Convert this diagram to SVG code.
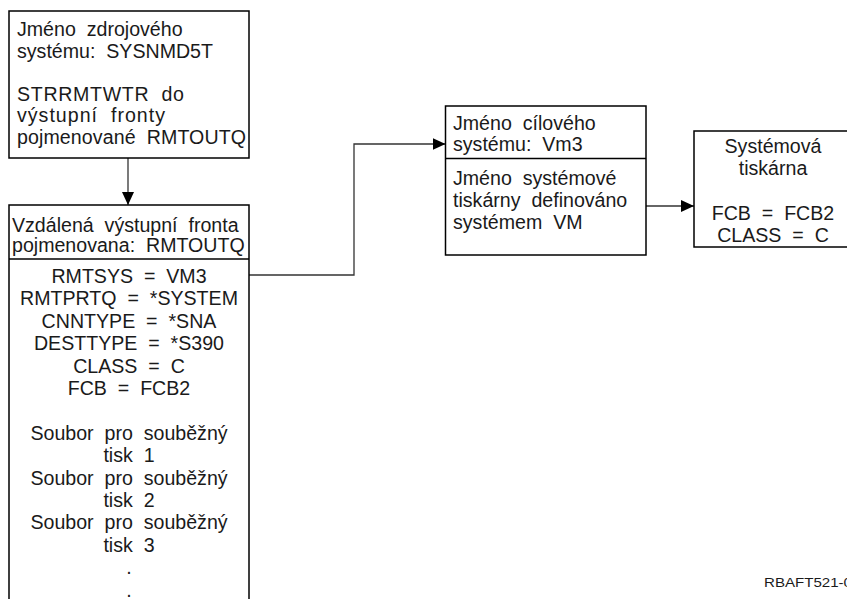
<svg xmlns="http://www.w3.org/2000/svg" width="847" height="599" viewBox="0 0 847 599">
<defs>
<marker id="ah" markerWidth="13" markerHeight="12" refX="13" refY="6" orient="auto" markerUnits="userSpaceOnUse"><path d="M0,0 L13,6 L0,12 Z" fill="#000"/></marker>
<style>
.box{fill:#fff;stroke:#000;stroke-width:1.5}
.div{stroke:#000;stroke-width:1.5}
text{font-family:"Liberation Sans",Arial,sans-serif;font-size:19.6px;fill:#1a1a1a;white-space:pre}
.c{text-anchor:middle}
.conn{fill:none;stroke:#333;stroke-width:1.3}
.fig{font-size:13.5px}
</style>
</defs>
<rect width="847" height="599" fill="#fff"/>
<g id="connectors">
<path class="conn" d="M128,158 V205" marker-end="url(#ah)"/>
<path class="conn" d="M249,275 H354 V144 H445.5" marker-end="url(#ah)"/>
<path class="conn" d="M646,206 H694" marker-end="url(#ah)"/>
</g>
<g id="source-system">
<rect class="box" x="9" y="11" width="240" height="147"/>
<text xml:space="preserve" x="17" y="36">Jméno  zdrojového</text>
<text xml:space="preserve" x="17" y="57.5">systému:  SYSNMD5T</text>
<text xml:space="preserve" x="17" y="101" textLength="167" lengthAdjust="spacing">STRRMTWTR  do</text>
<text xml:space="preserve" x="17" y="122" textLength="148" lengthAdjust="spacing">výstupní  fronty</text>
<text xml:space="preserve" x="17" y="143.5" textLength="229" lengthAdjust="spacing">pojmenované  RMTOUTQ</text>
</g>
<g id="remote-outq">
<rect class="box" x="9" y="205" width="240" height="420"/>
<line class="div" x1="9" y1="259" x2="249" y2="259"/>
<text xml:space="preserve" x="12" y="231.5">Vzdálená  výstupní  fronta</text>
<text xml:space="preserve" x="12" y="252">pojmenovana:  RMTOUTQ</text>
<text xml:space="preserve" class="c" x="129" y="283">RMTSYS  =  VM3</text>
<text xml:space="preserve" class="c" x="129" y="305.4">RMTPRTQ  =  *SYSTEM</text>
<text xml:space="preserve" class="c" x="129" y="327.8">CNNTYPE  =  *SNA</text>
<text xml:space="preserve" class="c" x="129" y="350.2">DESTTYPE  =  *S390</text>
<text xml:space="preserve" class="c" x="129" y="372.6">CLASS  =  C</text>
<text xml:space="preserve" class="c" x="129" y="395">FCB  =  FCB2</text>
<text xml:space="preserve" class="c" x="129" y="439.8">Soubor  pro  souběžný</text>
<text xml:space="preserve" class="c" x="129" y="462.2">tisk  1</text>
<text xml:space="preserve" class="c" x="129" y="484.6">Soubor  pro  souběžný</text>
<text xml:space="preserve" class="c" x="129" y="507">tisk  2</text>
<text xml:space="preserve" class="c" x="129" y="529.4">Soubor  pro  souběžný</text>
<text xml:space="preserve" class="c" x="129" y="551.8">tisk  3</text>
<text class="c" x="129" y="574.2">.</text>
<text class="c" x="129" y="596.6">.</text>
</g>
<g id="target-system">
<rect class="box" x="445.5" y="106" width="200.5" height="149"/>
<line class="div" x1="445.5" y1="158.5" x2="646" y2="158.5"/>
<text xml:space="preserve" x="453" y="129.5">Jméno  cílového</text>
<text xml:space="preserve" x="453" y="151">systému:  Vm3</text>
<text xml:space="preserve" x="453" y="185">Jméno  systémové</text>
<text xml:space="preserve" x="453" y="207">tiskárny  definováno</text>
<text xml:space="preserve" x="453" y="228.5">systémem  VM</text>
</g>
<g id="system-printer">
<rect class="box" x="694" y="131" width="160" height="116"/>
<text class="c" x="773" y="153">Systémová</text>
<text class="c" x="773" y="175">tiskárna</text>
<text xml:space="preserve" class="c" x="773" y="219.5">FCB  =  FCB2</text>
<text xml:space="preserve" class="c" x="773" y="241.5">CLASS  =  C</text>
</g>
<text class="fig" x="764" y="587" textLength="88" lengthAdjust="spacingAndGlyphs">RBAFT521-0</text>
</svg>
